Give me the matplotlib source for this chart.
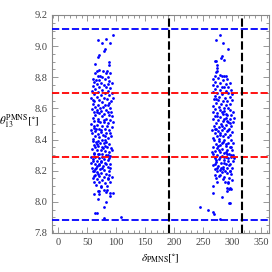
import matplotlib
matplotlib.use('Agg')
import matplotlib.pyplot as plt
from matplotlib.ticker import MultipleLocator

# scan points, left cluster (delta_PMNS [deg], theta13 [deg])
pts1 = [
    # sparse top
    (95, 9.07), (68, 9.04), (83, 9.045), (75, 9.02), (90, 9.02), (81, 8.98), (79, 8.97),
    (70, 8.945), (69, 8.93), (64, 8.885), (87, 8.895), (88, 8.88), (66, 8.84), (70, 8.845),
    (77, 8.84), (84, 8.84), (63, 8.825), (72, 8.81), (82, 8.83), (89, 8.826), (69, 8.806),
    (76, 8.80), (85, 8.805),
    # 8.6 - 8.8
    (60, 8.79), (65, 8.785), (71, 8.78), (80, 8.79), (88, 8.775), (62, 8.77), (74, 8.765),
    (86, 8.76), (92, 8.765), (67, 8.755), (78, 8.75), (59, 8.745), (83, 8.74), (70, 8.735),
    (90, 8.73), (63, 8.725), (76, 8.72), (86, 8.715), (58, 8.71), (68, 8.705), (81, 8.70),
    (93, 8.70), (61, 8.69), (73, 8.688), (88, 8.685), (66, 8.675), (79, 8.67), (57, 8.665),
    (84, 8.66), (70, 8.655), (91, 8.65), (62, 8.645), (75, 8.64), (87, 8.635), (59, 8.63),
    (68, 8.625), (81, 8.62), (64, 8.61), (72, 8.605), (89, 8.60), (77, 8.61), (85, 8.62),
    (60, 8.655), (94, 8.67),
    # 8.4 - 8.6
    (58, 8.595), (66, 8.59), (74, 8.585), (83, 8.59), (91, 8.58), (61, 8.575), (70, 8.57),
    (79, 8.565), (87, 8.56), (64, 8.555), (76, 8.55), (93, 8.55), (59, 8.54), (68, 8.535),
    (82, 8.53), (89, 8.525), (62, 8.52), (72, 8.515), (79, 8.51), (86, 8.505), (57, 8.50),
    (66, 8.495), (75, 8.49), (84, 8.485), (92, 8.48), (61, 8.475), (70, 8.47), (80, 8.465),
    (88, 8.46), (64, 8.455), (73, 8.45), (83, 8.445), (58, 8.44), (68, 8.435), (77, 8.43),
    (91, 8.425), (63, 8.42), (71, 8.415), (86, 8.41), (60, 8.405), (75, 8.40), (81, 8.395),
    (67, 8.58), (85, 8.575), (78, 8.525), (62, 8.49), (89, 8.44), (74, 8.46), (69, 8.52),
    (94, 8.51), (65, 8.47), (80, 8.42), (56, 8.46),
    # 8.2 - 8.4
    (59, 8.39), (65, 8.385), (72, 8.38), (79, 8.375), (87, 8.37), (62, 8.365), (69, 8.36),
    (76, 8.355), (84, 8.35), (91, 8.345), (58, 8.34), (66, 8.335), (73, 8.33), (80, 8.325),
    (88, 8.32), (61, 8.315), (68, 8.31), (75, 8.305), (83, 8.30), (90, 8.295), (57, 8.29),
    (64, 8.285), (71, 8.28), (78, 8.275), (86, 8.27), (60, 8.265), (67, 8.26), (74, 8.255),
    (81, 8.25), (89, 8.245), (63, 8.24), (70, 8.235), (77, 8.23), (85, 8.225), (58, 8.22),
    (65, 8.215), (72, 8.21), (79, 8.205), (87, 8.20), (61, 8.20), (69, 8.39), (82, 8.385),
    (63, 8.355), (77, 8.345), (70, 8.31), (86, 8.30), (59, 8.275), (73, 8.265), (83, 8.24),
    (67, 8.23), (90, 8.22), (75, 8.215), (62, 8.305), (92, 8.33), (66, 8.37), (80, 8.36),
    (57, 8.25), (88, 8.28), (71, 8.245), (76, 8.285), (64, 8.21),
    # 8.1 - 8.2
    (60, 8.195), (67, 8.19), (74, 8.185), (82, 8.18), (88, 8.175), (63, 8.17), (71, 8.165),
    (78, 8.16), (85, 8.155), (59, 8.15), (66, 8.145), (76, 8.14), (86, 8.145), (90, 8.13),
    (62, 8.13), (70, 8.125), (80, 8.12), (65, 8.11), (73, 8.105), (84, 8.10), (61, 8.165),
    (69, 8.18), (92, 8.16),
    # sparse bottom
    (74, 8.095), (68, 8.07), (70, 8.072), (84, 8.075), (89, 8.06), (79, 8.075), (61, 8.05),
    (71, 8.05), (82, 8.065), (68, 8.02), (90, 8.04), (94, 8.06), (83, 8.0), (79, 7.97),
    (64, 7.93), (66, 7.928), (79, 7.895), (108, 7.905),
]

# right cluster
pts2 = [
    (279, 9.07), (272, 9.04), (285, 9.02), (293, 8.98), (283, 8.935), (281, 8.925),
    (271, 8.904), (273, 8.904), (286, 8.91), (273.5, 8.88), (273.5, 8.86), (272, 8.835),
    (274, 8.838), (270.6, 8.81), (280, 8.812), (282, 8.808), (286, 8.81), (290, 8.808),
    # 8.6 - 8.8
    (268, 8.79), (276, 8.795), (284, 8.785), (292, 8.79), (271, 8.77), (280, 8.765),
    (289, 8.76), (297, 8.765), (267, 8.75), (275, 8.745), (286, 8.74), (294, 8.735),
    (270, 8.725), (279, 8.72), (290, 8.715), (299, 8.72), (268, 8.705), (274, 8.70),
    (283, 8.695), (293, 8.70), (271, 8.68), (278, 8.675), (288, 8.67), (296, 8.675),
    (269, 8.66), (276, 8.655), (285, 8.65), (292, 8.645), (300, 8.655), (272, 8.635),
    (281, 8.63), (290, 8.625), (297, 8.63), (268, 8.615), (277, 8.61), (286, 8.605),
    (294, 8.60), (273, 8.66), (283, 8.74), (300, 8.69),
    # 8.4 - 8.6
    (270, 8.595), (279, 8.59), (287, 8.585), (296, 8.59), (302, 8.58), (268, 8.575),
    (275, 8.57), (284, 8.565), (292, 8.56), (299, 8.555), (271, 8.55), (280, 8.545),
    (289, 8.54), (297, 8.535), (267, 8.53), (276, 8.525), (285, 8.52), (294, 8.515),
    (301, 8.51), (272, 8.505), (281, 8.50), (290, 8.495), (298, 8.49), (269, 8.485),
    (278, 8.48), (287, 8.475), (295, 8.47), (273, 8.465), (283, 8.46), (291, 8.455),
    (300, 8.45), (270, 8.445), (279, 8.44), (288, 8.435), (296, 8.43), (274, 8.425),
    (284, 8.42), (293, 8.415), (268, 8.41), (277, 8.405), (286, 8.40), (299, 8.40),
    (282, 8.58), (274, 8.55), (291, 8.52), (283, 8.49), (276, 8.455), (294, 8.46),
    (289, 8.565), (271, 8.47), (297, 8.505), (280, 8.43), (303, 8.54), (286, 8.53),
    (266, 8.46),
    # 8.2 - 8.4
    (269, 8.395), (277, 8.39), (285, 8.385), (294, 8.38), (301, 8.375), (272, 8.37),
    (280, 8.365), (289, 8.36), (297, 8.355), (268, 8.35), (275, 8.345), (283, 8.34),
    (292, 8.335), (300, 8.33), (271, 8.325), (279, 8.32), (287, 8.315), (295, 8.31),
    (267, 8.305), (274, 8.30), (282, 8.295), (290, 8.29), (298, 8.285), (270, 8.28),
    (278, 8.275), (286, 8.27), (294, 8.265), (302, 8.26), (273, 8.255), (281, 8.25),
    (289, 8.245), (297, 8.24), (268, 8.235), (276, 8.23), (284, 8.225), (292, 8.22),
    (300, 8.215), (271, 8.21), (279, 8.205), (288, 8.20), (296, 8.20), (283, 8.38),
    (291, 8.31), (276, 8.36), (299, 8.30), (286, 8.29), (273, 8.27), (295, 8.235),
    (281, 8.22), (290, 8.37), (304, 8.28), (278, 8.33), (287, 8.25), (270, 8.245),
    (293, 8.28), (284, 8.21), (298, 8.35), (275, 8.215), (266, 8.32), (289, 8.32),
    (280, 8.29), (302, 8.30),
    # 8.1 - 8.2
    (274, 8.195), (282, 8.19), (291, 8.185), (299, 8.18), (270, 8.17), (278, 8.165),
    (287, 8.16), (295, 8.155), (272, 8.15), (285, 8.145), (293, 8.13), (300, 8.14),
    (275, 8.13), (292.6, 8.12), (288, 8.125), (296, 8.09), (298, 8.085), (268, 8.10),
    (280, 8.175), (297, 8.20),
    # sparse bottom
    (268, 8.06), (282, 8.03), (291, 8.07), (295, 8.08), (292, 8.09), (295, 7.99),
    (296, 7.995), (244.7, 7.964), (258.5, 7.95), (267, 7.935), (269, 7.925), (279, 7.89),
]

theta13_3sig = [7.885, 9.11]   # blue
theta13_1sig = [8.29, 8.70]    # red
delta_bounds = [192, 317]      # black

plt.rcParams['font.family'] = 'serif'
plt.rcParams['font.serif'] = ['Liberation Serif', 'DejaVu Serif']
plt.rcParams['mathtext.fontset'] = 'stix'

fig = plt.figure(figsize=(2.72, 2.72), dpi=100)
ax = fig.add_axes([52/272, 39/272, 217/272, 218/272])

x1 = [p[0] for p in pts1]
y1 = [p[1] for p in pts1]
x2 = [p[0] for p in pts2]
y2 = [p[1] for p in pts2]
ax.scatter(x1 + x2, y1 + y2, s=4, color='#0000ff', linewidths=0, zorder=3)

for y in theta13_3sig:
    ax.axhline(y, color='#0000ff', ls=(0, (4, 1.5)), lw=1.3, zorder=4)
for y in theta13_1sig:
    ax.axhline(y, color='#ff0000', ls=(0, (4, 1.5)), lw=1.3, zorder=4)
for x in delta_bounds:
    ax.axvline(x, color='black', ls=(0, (4, 1.5)), lw=1.5, zorder=4)

ax.set_xlim(-11, 364)
ax.set_ylim(7.8, 9.2)
ax.xaxis.set_major_locator(MultipleLocator(50))
ax.xaxis.set_minor_locator(MultipleLocator(10))
ax.yaxis.set_major_locator(MultipleLocator(0.2))
ax.yaxis.set_minor_locator(MultipleLocator(0.05))
ax.set_yticks(ax.get_yticks())
ax.set_yticklabels(['%.1f' % t for t in ax.get_yticks()])
ax.set_ylim(7.8, 9.2)

gray = '#888888'
for s in ax.spines.values():
    s.set_color(gray)
    s.set_linewidth(0.8)
ax.tick_params(which='both', direction='in', top=True, right=True, color=gray,
               labelsize=7.5, labelcolor='#444444', width=0.6)
ax.tick_params(which='major', length=4)
ax.tick_params(which='minor', length=2)

ax.set_xlabel(r'$\delta_{\rm PMNS}[^{\circ}]$', fontsize=8, labelpad=4)
ax.set_ylabel(r'$\theta_{13}^{\rm PMNS}[^{\circ}]$', fontsize=8, rotation=0,
              ha='right', va='center')
ax.yaxis.set_label_coords(-0.06, 0.51)

fig.savefig('out.png', dpi=100)
